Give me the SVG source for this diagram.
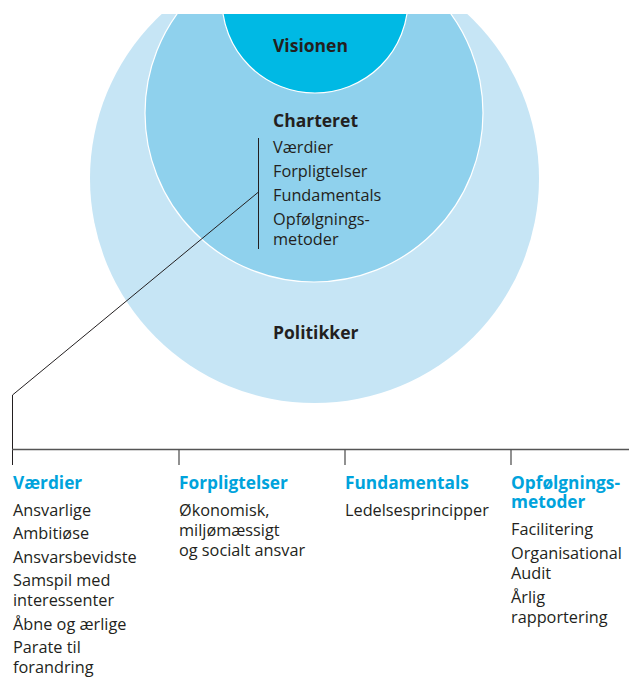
<svg xmlns="http://www.w3.org/2000/svg" width="629" height="678" viewBox="0 0 629 678">
  <style>
    text { font-family: "Open Sans", "Noto Sans", "Liberation Sans", sans-serif; fill: #231f20; }
    .title { font-size: 17.5px; font-weight: bold; }
    .item { font-size: 16.3px; }
    .head { font-size: 17.3px; font-weight: bold; fill: #00a3dc; }
    .ln { stroke: #231f20; stroke-width: 1; fill: none; }
    .rule { stroke: #555; stroke-width: 1.3; fill: none; }
  </style>
  <defs>
    <clipPath id="area"><rect x="0" y="14" width="629" height="664"/></clipPath>
  </defs>

  <g id="circles" clip-path="url(#area)">
    <g id="politikker"><circle cx="314.5" cy="178.5" r="224.5" fill="#c6e5f5"/></g>
    <g id="charteret"><circle cx="314" cy="113" r="169" fill="#8fd1ed" stroke="#ffffff" stroke-width="1.2"/></g>
    <g id="visionen"><circle cx="315" cy="0" r="93" fill="#00b9e4" stroke="#ffffff" stroke-width="1.2"/></g>
  </g>

  <g id="labels">
    <text class="title" x="273" y="52">Visionen</text>
    <text class="title" x="273" y="127">Charteret</text>
    <text class="item" x="273" y="153">Værdier</text>
    <text class="item" x="273" y="177">Forpligtelser</text>
    <text class="item" x="273" y="201">Fundamentals</text>
    <text class="item" x="273" y="225">Opfølgnings-<tspan x="273" dy="20">metoder</tspan></text>
    <text class="title" x="273" y="339">Politikker</text>
  </g>

  <g id="connectors">
    <line class="ln" x1="258.5" y1="138" x2="258.5" y2="249"/>
    <polyline class="ln" points="258.5,192 12.5,395 12.5,465"/>
    <line class="rule" x1="12" y1="449.5" x2="629" y2="449.5"/>
    <line class="rule" x1="179" y1="449.5" x2="179" y2="465"/>
    <line class="rule" x1="345" y1="449.5" x2="345" y2="465"/>
    <line class="rule" x1="511" y1="449.5" x2="511" y2="465"/>
  </g>

  <g id="col-vaerdier">
    <text class="head" x="13" y="489">Værdier</text>
    <text class="item" x="13" y="516">Ansvarlige</text>
    <text class="item" x="13" y="539">Ambitiøse</text>
    <text class="item" x="13" y="563">Ansvarsbevidste</text>
    <text class="item" x="13" y="586">Samspil med<tspan x="13" dy="20">interessenter</tspan></text>
    <text class="item" x="13" y="630">Åbne og ærlige</text>
    <text class="item" x="13" y="653">Parate til<tspan x="13" dy="20">forandring</tspan></text>
  </g>

  <g id="col-forpligtelser">
    <text class="head" x="179" y="489">Forpligtelser</text>
    <text class="item" x="179" y="516">Økonomisk,<tspan x="179" dy="20">miljømæssigt</tspan><tspan x="179" dy="20">og socialt ansvar</tspan></text>
  </g>

  <g id="col-fundamentals">
    <text class="head" x="345" y="489">Fundamentals</text>
    <text class="item" x="345" y="516">Ledelsesprincipper</text>
  </g>

  <g id="col-opfoelgning">
    <text class="head" x="511" y="489">Opfølgnings-<tspan x="511" dy="19">metoder</tspan></text>
    <text class="item" x="511" y="535">Facilitering</text>
    <text class="item" x="511" y="559">Organisational<tspan x="511" dy="20">Audit</tspan></text>
    <text class="item" x="511" y="603">Årlig<tspan x="511" dy="20">rapportering</tspan></text>
  </g>
</svg>
